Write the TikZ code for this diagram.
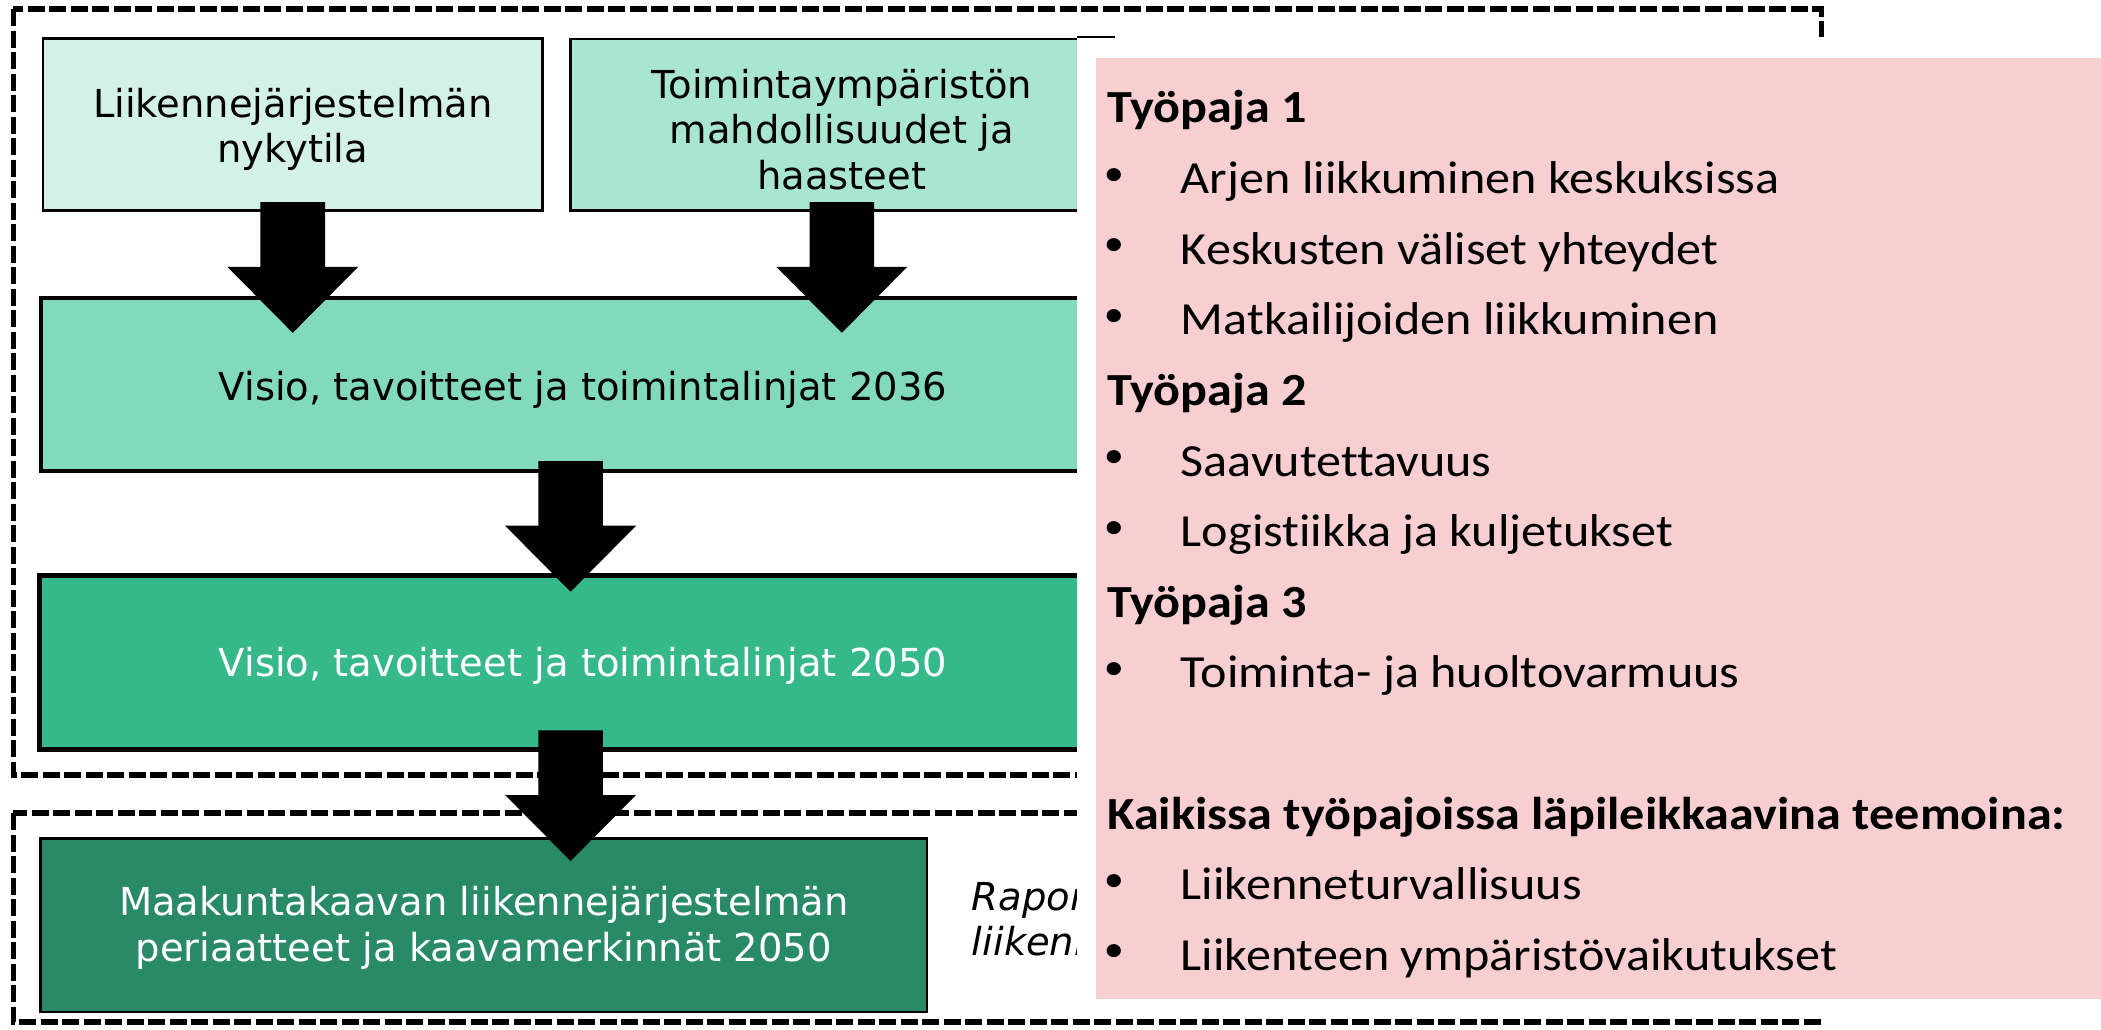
\documentclass[tikz,border=0pt]{standalone}
\usepackage{fontspec}
\setmainfont{DejaVu Sans}
\newfontfamily\calib[FakeStretch=1.09, Ligatures=NoCommon]{Carlito}
\usetikzlibrary{calc}
\definecolor{boxA}{HTML}{D3F1E6}
\definecolor{boxB}{HTML}{A9E6D1}
\definecolor{boxC}{HTML}{80DABB}
\definecolor{boxD}{HTML}{36B98A}
\definecolor{boxE}{HTML}{288A66}
\definecolor{pinkbg}{HTML}{F8CFD1}
\newcommand\blockarrowdown[1]{\fill[black] (#1) ++(-32.3,0) -- ++(64.6,0) -- ++(0,64.7) -- ++(33.2,0) -- ++(-65.5,66) -- ++(-65.5,-66) -- ++(33.2,0) -- cycle;}
\newcommand\boxstrut[1]{\rule{0pt}{#1}}
\begin{document}
\begin{tikzpicture}[x=1pt,y=-1pt,
  frame/.style={line width=5.5pt, dash pattern=on 17pt off 4.5pt},
  box/.style={draw=black, rectangle, inner sep=0pt, align=center, font=\fontsize{38.5}{45.5}\selectfont},
  rtext/.style={anchor=base west, inner sep=0pt, font=\calib\fontsize{46}{50}\selectfont},
  rhead/.style={anchor=base west, inner sep=0pt, font=\calib\bfseries\fontsize{46}{50}\selectfont},
  bul/.style={anchor=center, inner sep=0pt, font=\calib\fontsize{37}{40}\selectfont},
  note/.style={anchor=base west, inner sep=0pt, font=\itshape\fontsize{38.5}{45.5}\selectfont}]
\useasboundingbox (0,0) rectangle (2101,1029);
\fill[white] (0,0) rectangle (2101,1029);
% dashed frames
\draw[frame] (13.3,9) rectangle (1821.5,775);
\draw[frame] (13.3,813) rectangle (1821.5,1022);
% boxes
\node[box, fill=boxA, line width=2.8pt, minimum width=499.5, minimum height=172] (A) at (292.75,124.7) {\boxstrut{38.7pt}Liikennejärjestelmän\\nykytila};
\node[box, fill=boxB, line width=2.8pt, minimum width=542.3, minimum height=171.7] (B) at (841.8,124.85) {\boxstrut{38pt}Toimintaympäristön\\mahdollisuudet ja\\haasteet};
\node[box, fill=boxC, line width=4.2pt, minimum width=1084, minimum height=173] (C) at (583,384.5) {\boxstrut{40.1pt}Visio, tavoitteet ja toimintalinjat 2036};
\node[box, fill=boxD, line width=4.5pt, minimum width=1087, minimum height=174, text=white] (D) at (583,662.5) {\boxstrut{36.1pt}Visio, tavoitteet ja toimintalinjat 2050};
\node[box, fill=boxE, line width=2.7pt, minimum width=886.3, minimum height=173.5, text=white] (E) at (483.85,925.25) {\boxstrut{34.7pt}Maakuntakaavan liikennejärjestelmän\\periaatteet ja kaavamerkinnät 2050};
% block arrows
\coordinate (a1) at ($(A.south)+(0,-10)$);
\coordinate (a2) at ($(B.south)+(0,-10)$);
\coordinate (a3) at (570.6,461);
\coordinate (a4) at (570.6,730.3);
\blockarrowdown{a1}
\blockarrowdown{a2}
\blockarrowdown{a3}
\blockarrowdown{a4}
% partly hidden note
\node[note] (n1) at (971.7,910) {Raport};
\node[note] (n2) at (971.7,955) {liikenn};
% white cover
\fill[white] (1077,37) rectangle (2101,1018);
\draw[line width=1.3pt] (1077,37) -- (1115,37);
% pink panel
\fill[pinkbg] (1095.6,58.3) rectangle (2101,998.7);
\node[rhead] (h1) at (1107,122) {Työpaja 1};
\node[bul] (b1) at (1114,176.7) {•};
\node[rtext] (t1) at (1180.7,193.6) {Arjen liikkuminen keskuksissa};
\node[bul] (b2) at (1114,247.3) {•};
\node[rtext] (t2) at (1180.7,264.2) {Keskusten väliset yhteydet};
\node[bul] (b3) at (1114,317.9) {•};
\node[rtext] (t3) at (1180.7,334.8) {Matkailijoiden liikkuminen};
\node[rhead] (h2) at (1107,405.4) {Työpaja 2};
\node[bul] (b4) at (1114,459.1) {•};
\node[rtext] (t4) at (1180.7,476) {Saavutettavuus};
\node[bul] (b5) at (1114,529.7) {•};
\node[rtext] (t5) at (1180.7,546.6) {Logistiikka ja kuljetukset};
\node[rhead] (h3) at (1107,617.2) {Työpaja 3};
\node[bul] (b6) at (1114,670.9) {•};
\node[rtext] (t6) at (1180.7,687.8) {Toiminta- ja huoltovarmuus};
\node[rhead] (h4) at (1107,829) {Kaikissa työpajoissa läpileikkaavina teemoina:};
\node[bul] (b7) at (1114,882.7) {•};
\node[rtext] (t7) at (1180.7,899.6) {Liikenneturvallisuus};
\node[bul] (b8) at (1114,953.3) {•};
\node[rtext] (t8) at (1180.7,970.2) {Liikenteen ympäristövaikutukset};
\end{tikzpicture}
\end{document}
